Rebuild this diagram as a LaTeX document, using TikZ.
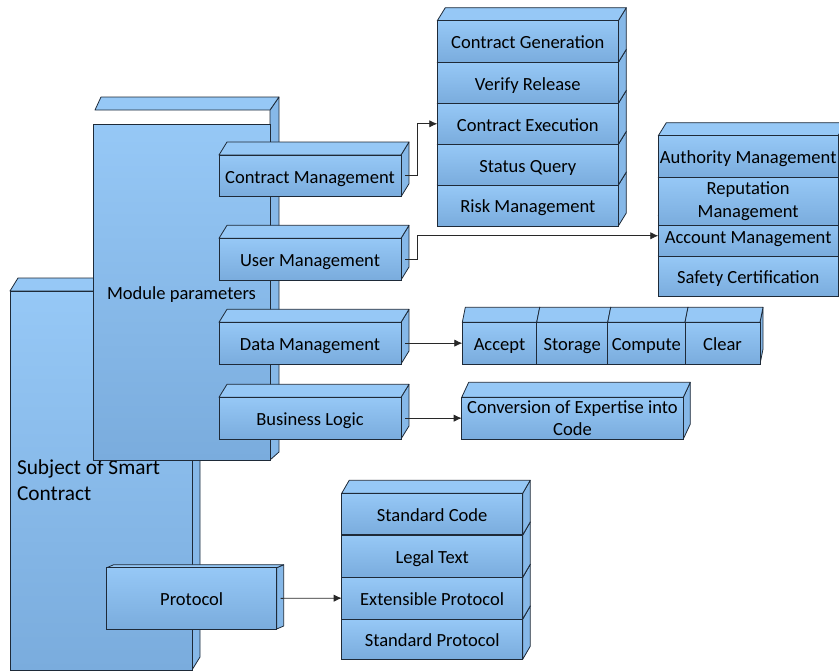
\documentclass[tikz,border=0pt]{standalone}
\usepackage{fontspec}
\setmainfont{Carlito}
\usetikzlibrary{calc, positioning, arrows.meta}
\definecolor{BoxLight}{RGB}{150,200,246}
\definecolor{BoxDark}{RGB}{122,172,221}
\definecolor{BoxSide}{RGB}{134,184,232}
\definecolor{BoxEdge}{RGB}{30,42,56}
\definecolor{LinkGray}{RGB}{40,40,40}

\tikzset{
  cubefront/.style={draw=BoxEdge, line width=0.6pt, top color=BoxLight, bottom color=BoxDark,
    inner sep=0pt, outer sep=0pt, align=center, font=\fontsize{13.9}{17}\selectfont,
    text height=11.2pt, text depth=0pt},
  twolines/.style={text height=, text depth=},
  cubelid/.style={draw=BoxEdge, line width=0.6pt, fill=BoxLight, line join=round},
  cubeside/.style={draw=BoxEdge, line width=0.6pt, fill=BoxSide, line join=round},
  link/.style={draw=LinkGray, line width=0.6pt, -{Latex[length=6pt,width=5.5pt]}},
}

% 3D box: [options]{name}{x1}{y1}{x2}{y2}{dx}{dy}{text}
\newcommand{\cubebox}[9][]{%
  \path[cubeside] (#5,#4) -- (#5+#7,#4-#8) -- (#5+#7,#6-#8) -- (#5,#6) -- cycle;
  \path[cubelid] (#3,#4) -- (#3+#7,#4-#8) -- (#5+#7,#4-#8) -- (#5,#4) -- cycle;
  \node[cubefront, minimum width={(#5-#3)*0.75pt}, minimum height={(#6-#4)*0.75pt}, #1]
    (#2) at ({(#3+#5)/2},{(#4+#6)/2}) {#9};
}

\begin{document}
\begin{tikzpicture}[x=0.75pt, y=-0.75pt]
\useasboundingbox (0,0) rectangle (839,671);

% Subject of smart contract
\cubebox[twolines, text width=126pt, align=flush left, font=\fontsize{16}{19.5}\selectfont]{subject}{10}{291}{192}{670}{8}{13}{Subject of Smart\\Contract}

% Module parameters
\path[cubeside] (270,110) -- (279,97) -- (279,452) -- (270,460) -- cycle;
\path[cubelid] (95,110) -- (101,97) -- (279,97) -- (270,110) -- cycle;
\node[cubefront, minimum width=132.75pt, minimum height=252pt] (module) at (181.5,292) {Module parameters};

% Modules
\cubebox{contract}{219}{155}{401}{196.7}{8}{13}{Contract Management}
\cubebox{user}{219}{238.3}{401}{280}{8}{13}{User Management}
\cubebox{data}{219}{322.3}{401}{364}{8}{13}{Data Management}
\cubebox{logic}{219}{397.3}{401}{439}{8}{13}{Business Logic}
\cubebox{protocol}{106.7}{567.7}{276.7}{629}{7}{3}{Protocol}

% Contract stack (bottom row first)
\cubebox{risk}{437.3}{185}{618.3}{226}{8}{13}{Risk Management}
\cubebox{query}{437.3}{144.3}{618.3}{185}{8}{13}{Status Query}
\cubebox{exec}{437.3}{103.3}{618.3}{144.3}{8}{13}{Contract Execution}
\cubebox{verify}{437.3}{62.3}{618.3}{103.3}{8}{13}{Verify Release}
\cubebox{generate}{437.3}{20.7}{618.3}{62.3}{8}{13}{Contract Generation}

% User stack
\cubebox{safety}{658.3}{256}{838}{296.7}{8}{13}{Safety Certification}
\cubebox{account}{658.3}{215.5}{838}{256}{8}{13}{Account Management}
\cubebox[twolines]{reputation}{658.3}{177.3}{838}{225.7}{8}{13}{Reputation\\Management}
\cubebox{authority}{658.3}{135.7}{838}{177.3}{8}{13}{Authority Management}

% Data row (left to right)
\cubebox{accept}{462.3}{322.3}{536.7}{364}{3}{15}{Accept}
\cubebox{storage}{536.7}{322.3}{607.7}{364}{3}{15}{Storage}
\cubebox{compute}{607.7}{322.3}{685}{364}{3}{15}{Compute}
\cubebox{clear}{685}{322.3}{760}{364}{3}{15}{Clear}

% Business logic
\cubebox[twolines]{expertise}{461.7}{397.3}{683.3}{439}{7}{15}{Conversion of Expertise into\\Code}

% Protocol stack
\cubebox{stdproto}{341.7}{619}{522.7}{659.3}{7.5}{13}{Standard Protocol}
\cubebox{extensible}{341.7}{577.3}{522.7}{619}{7.5}{13}{Extensible Protocol}
\cubebox{legal}{341.7}{535}{522.7}{577.3}{7.5}{13}{Legal Text}
\cubebox[line width=1pt]{stdcode}{341.7}{493.3}{522.7}{535}{7.5}{13}{Standard Code}

% Connectors
\draw[link] ([xshift=3pt]contract.east) -- ++(12,0) |- (exec.west);
\draw[link] ([xshift=3pt]user.east) -- ++(12,0) |- (account.west);
\draw[link] ([xshift=3pt]data.east) -- (accept.west);
\draw[link] ([xshift=3pt]logic.east) -- (expertise.west);
\draw[link] ([xshift=3pt]protocol.east) -- (extensible.west);
\end{tikzpicture}
\end{document}
